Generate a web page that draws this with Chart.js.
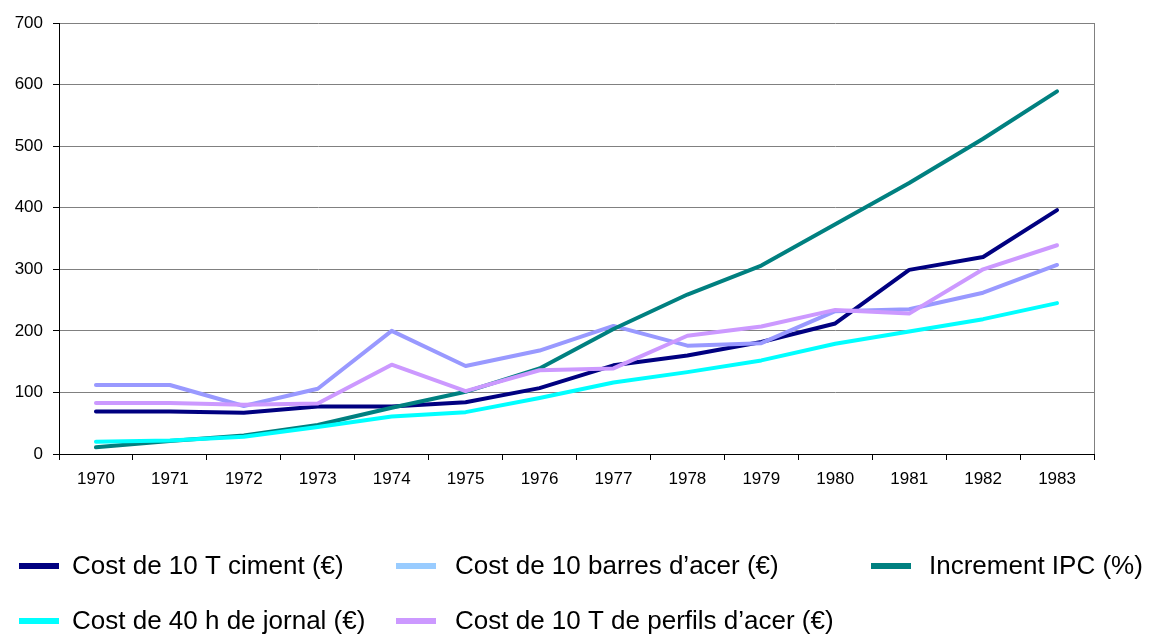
<!DOCTYPE html>
<html>
<head>
<meta charset="utf-8">
<script src="https://cdn.jsdelivr.net/npm/chart.js@4/dist/chart.umd.min.js"></script>
<style>
  html, body { margin: 0; padding: 0; background: #ffffff; }
  #wrap { width: 1149px; height: 634px; }
</style>
</head>
<body>
<div id="wrap"><canvas id="c" width="1149" height="634"></canvas></div>
<script>
// ---- data ----
const years = ['1970','1971','1972','1973','1974','1975','1976','1977','1978','1979','1980','1981','1982','1983'];
const costCiment  = [69, 69, 67, 77, 77, 84, 107, 144, 160, 182, 212, 299, 320, 396];
const costBarres  = [112, 112, 78, 106, 200, 143, 168, 208, 176, 180, 232, 235, 262, 307];
const incrementIPC = [11, 21, 30, 47, 75, 101, 139, 203, 259, 306, 373, 440, 512, 589];
const costJornal  = [20, 22, 28, 44, 61, 68, 91, 116, 133, 152, 179, 199, 219, 245];
const costPerfils = [83, 83, 80, 82, 145, 102, 136, 139, 192, 207, 234, 228, 300, 339];
const seriesNames = [
  'Cost de 10 T ciment (€)',
  'Cost de 10 barres d\u2019acer (€)',
  'Increment IPC (%)',
  'Cost de 40 h de jornal (€)',
  'Cost de 10 T de perfils d\u2019acer (€)'
];
const yTicks = [0, 100, 200, 300, 400, 500, 600, 700];

// ---- styles ----
const lineColors   = ['#000080', '#9999FF', '#008080', '#00FFFF', '#CC99FF'];
const legendColors = ['#000080', '#99CCFF', '#008080', '#00FFFF', '#CC99FF'];
const FONT = '"Liberation Sans", Arial, Helvetica, sans-serif';

const seriesValues = [costCiment, costBarres, incrementIPC, costJornal, costPerfils];

// Excel-like legend laid out in columns
const columnLegend = {
  id: 'columnLegend',
  afterDraw(chart, args, opts) {
    const ctx = chart.ctx;
    ctx.save();
    ctx.font = opts.fontSize + 'px ' + FONT;
    ctx.textBaseline = 'middle';
    ctx.textAlign = 'left';
    chart.data.datasets.forEach((ds, i) => {
      const col = i % opts.perRow;
      const row = Math.floor(i / opts.perRow);
      const x = opts.colX[col];
      const y = opts.rowY[row];
      ctx.fillStyle = legendColors[i];
      ctx.fillRect(x, y - opts.boxHeight / 2, opts.boxWidth, opts.boxHeight);
      ctx.fillStyle = '#000000';
      ctx.fillText(ds.label, opts.textX[col], y + 1);
    });
    ctx.restore();
  }
};

const datasets = seriesNames.map((name, i) => ({
  label: name,
  data: seriesValues[i],
  borderColor: lineColors[i],
  backgroundColor: lineColors[i],
  borderWidth: 4,
  pointRadius: 0,
  pointHoverRadius: 0,
  tension: 0,
  fill: false,
  borderJoinStyle: 'round',
  borderCapStyle: 'round',
  order: seriesNames.length - i
}));

new Chart(document.getElementById('c'), {
  type: 'line',
  data: { labels: years, datasets: datasets },
  options: {
    responsive: false,
    animation: false,
    devicePixelRatio: 1,
    layout: { padding: { left: 0, right: 55, top: 23, bottom: 140 } },
    plugins: {
      legend: { display: false },
      tooltip: { enabled: false },
      columnLegend: {
        perRow: 3,
        colX: [19, 396, 871],
        textX: [72, 455, 929],
        rowY: [566, 621],
        boxWidth: 40,
        boxHeight: 6,
        fontSize: 26
      }
    },
    scales: {
      x: {
        offset: true,
        grid: {
          offset: true,
          drawOnChartArea: true,
          color: (c) => (c.type === 'scale' || c.index === years.length ? '#808080' : 'rgba(0,0,0,0)'),
          tickColor: '#000000',
          tickLength: 6,
          lineWidth: 1
        },
        border: { color: '#000000', width: 1 },
        ticks: {
          color: '#000000',
          font: { family: FONT, size: 17 },
          padding: 9,
          maxRotation: 0,
          autoSkip: false
        },
        afterFit: (s) => { s.height = 40; }
      },
      y: {
        min: 0,
        max: 700,
        afterBuildTicks: (s) => { s.ticks = yTicks.map(v => ({ value: v })); },
        grid: {
          color: '#808080',
          tickColor: '#000000',
          tickLength: 6,
          lineWidth: 1
        },
        border: { color: '#000000', width: 1 },
        ticks: {
          color: '#000000',
          font: { family: FONT, size: 17 },
          padding: 10
        },
        afterFit: (s) => { s.width = 59; }
      }
    }
  },
  plugins: [columnLegend]
});
</script>
</body>
</html>
